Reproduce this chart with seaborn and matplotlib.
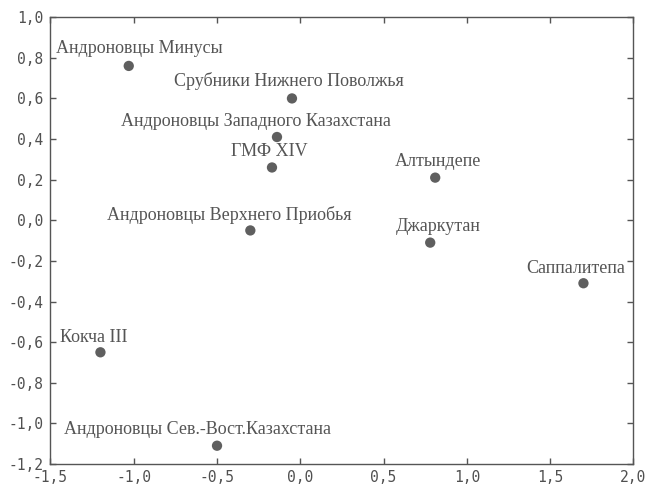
import numpy as np
import pandas as pd
import matplotlib
matplotlib.use("Agg")
import matplotlib.pyplot as plt
import matplotlib.ticker as mticker
import seaborn as sns

labels = [
    "Андроновцы Минусы",
    "Срубники Нижнего Поволжья",
    "Андроновцы Западного Казахстана",
    "ГМФ XIV",
    "Андроновцы Верхнего Приобья",
    "Алтындепе",
    "Джаркутан",
    "Саппалитепа",
    "Кокча III",
    "Андроновцы Сев.-Вост.Казахстана",
]
x_vals = [-1.03, -0.05, -0.14, -0.17, -0.30, 0.81, 0.78, 1.70, -1.20, -0.50]
y_vals = [0.76, 0.60, 0.41, 0.26, -0.05, 0.21, -0.11, -0.31, -0.65, -1.11]

# label offsets in pixels (dx, dy) relative to the point
label_dx = [11, -3, -21, -3, -21, 3, 8, -8, -7, -20]
label_dy = [17, 17, 16, 16, 15, 16, 16, 15, 15, 16]

df = pd.DataFrame({"x": x_vals, "y": y_vals, "name": labels})

sns.set_style("ticks")
plt.rcParams["font.family"] = ["Liberation Serif", "DejaVu Serif"]

fig = plt.figure(figsize=(6.47, 4.91), dpi=100)
ax = fig.add_axes([0.078, 0.055, 0.901, 0.91])

sns.scatterplot(data=df, x="x", y="y", ax=ax, color="#5f5f5f", s=55,
                edgecolor="none", legend=False, zorder=3)

for name, xv, yv, dx, dy in zip(labels, x_vals, y_vals, label_dx, label_dy):
    ax.annotate(name, (xv, yv), xytext=(dx, dy), textcoords="offset pixels",
                ha="center", va="center", fontsize=13, color="#555555")

ax.set_xlim(-1.5, 2.0)
ax.set_ylim(-1.2, 1.0)
ax.set_xticks(np.arange(-1.5, 2.01, 0.5))
ax.set_yticks(np.arange(-1.2, 1.01, 0.2))
fmt = mticker.FuncFormatter(lambda v, p: f"{v:.1f}".replace(".", ",").replace("-0,0", "0,0"))
ax.xaxis.set_major_formatter(fmt)
ax.yaxis.set_major_formatter(fmt)
ax.set_xlabel("")
ax.set_ylabel("")

ax.tick_params(direction="in", length=4, width=1, color="#555555",
               top=True, right=True, labelsize=10.5, labelcolor="#505050")
ax.tick_params(axis="y", pad=5)
ax.tick_params(axis="x", pad=4)
for lab in ax.get_xticklabels() + ax.get_yticklabels():
    lab.set_family("DejaVu Sans Mono")
for sp in ax.spines.values():
    sp.set_visible(True)
    sp.set_color("#555555")
    sp.set_linewidth(1.0)

fig.savefig("out.png", dpi=100)
